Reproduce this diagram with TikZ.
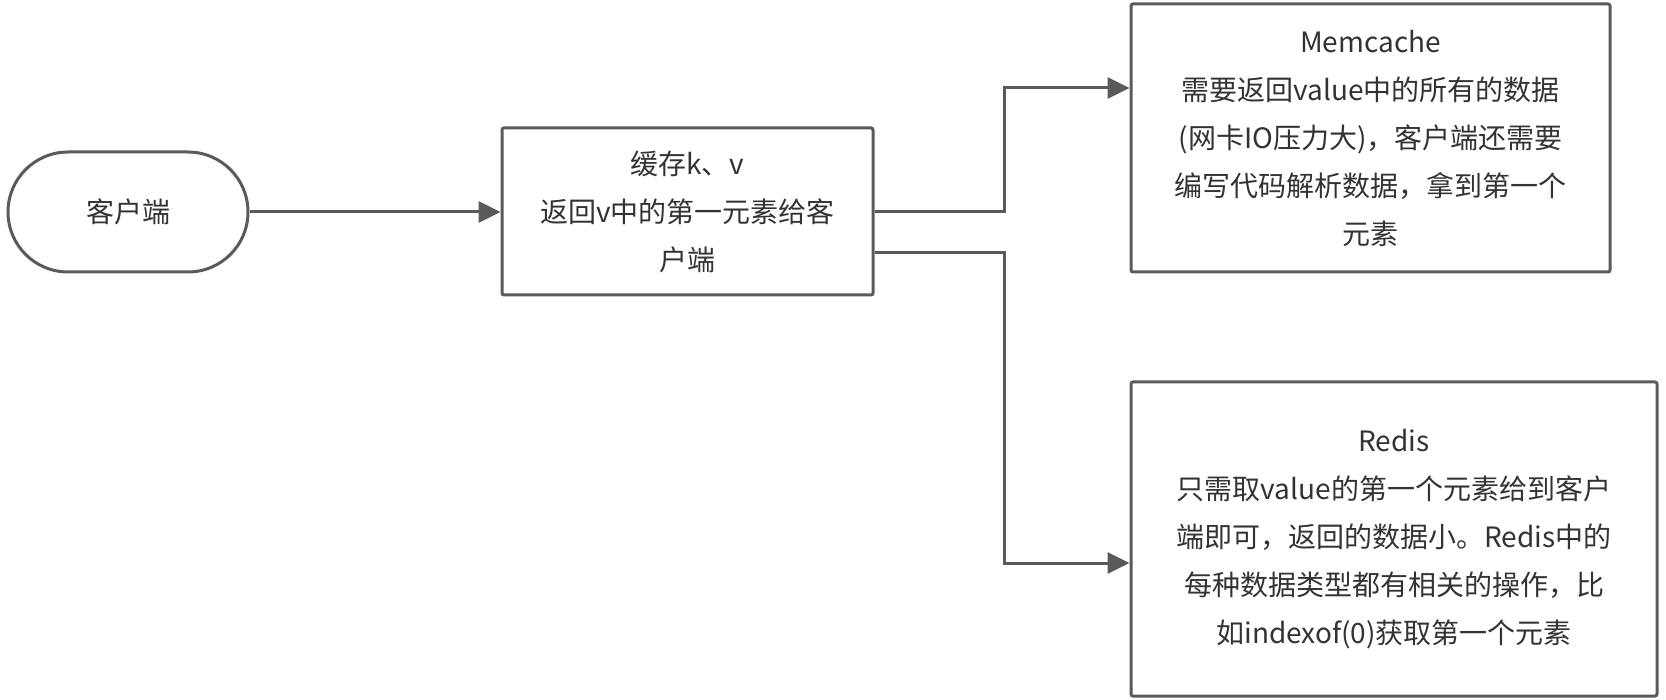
\documentclass[tikz,border=0pt]{standalone}
\usepackage{fontspec}
\setmainfont{Noto Sans CJK SC}
\usetikzlibrary{arrows.meta}
\definecolor{linec}{HTML}{5A5A5A}
\definecolor{textc}{HTML}{333333}
\begin{document}
\begin{tikzpicture}[x=0.5pt,y=-0.5pt,
  box/.style={draw=linec, line width=1.5pt, rounded corners=1pt, fill=white, align=center,
    text=textc, font=\fontsize{14}{24}\selectfont, inner sep=0pt},
  conn/.style={draw=linec, line width=1.5pt, -{Triangle[length=11pt,width=10.5pt]}}]
\useasboundingbox (0,0) rectangle (1666,700);
\node[box, rounded corners=30pt, minimum width=120pt, minimum height=60pt] (client) at (128,212) {客户端};
\node[box, minimum width=185.5pt, minimum height=83.5pt] (mid) at (687.5,211.5)
  {缓存k、v\\返回v中的第一元素给客\\户端};
\node[box, minimum width=239.5pt, minimum height=134pt] (mem) at (1370.5,138)
  {Memcache\\需要返回value中的所有的数据\\(网卡IO压力大)，客户端还需要\\编写代码解析数据，拿到第一个\\元素};
\node[box, minimum width=263pt, minimum height=157pt] (redis) at (1394,539)
  {Redis\\只需取value的第一个元素给到客户\\端即可，返回的数据小。Redis中的\\每种数据类型都有相关的操作，比\\如indexof(0)获取第一个元素};
\draw[conn] (client.east) -- (client.east -| mid.west);
\draw[conn] (mid.east) -- ++(130,0) |- ([yshift=25pt]mem.west);
\draw[conn] ([yshift=-20.75pt]mid.east) -- ++(130,0) |- ([yshift=-12pt]redis.west);
\end{tikzpicture}
\end{document}
